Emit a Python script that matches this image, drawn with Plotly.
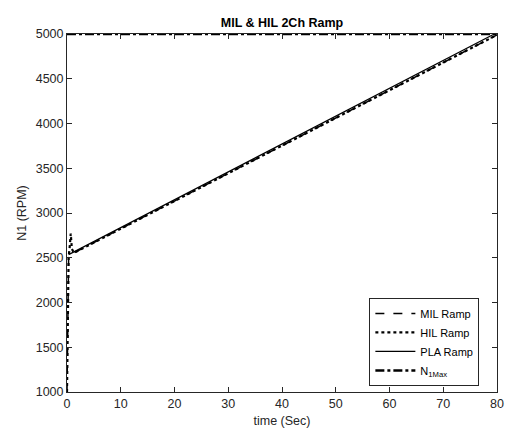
import plotly.graph_objects as go

# Time (s) and N1 speed (RPM) for each ramp trace
t_mil = [0.0, 0.3, 0.7, 1.3, 80.0]
n1_mil = [1000, 2500, 2560, 2555, 4990]

t_hil = [0.0, 0.3, 0.5, 0.7, 0.9, 1.3, 80.0]
n1_hil = [1000, 2500, 2620, 2770, 2600, 2555, 4990]

t_pla = [0.3, 79.5, 80.0]
n1_pla = [2535, 5000, 5000]

t_max = [0.0, 80.0]
n1_max = [5000, 5000]

x_ticks = [0, 10, 20, 30, 40, 50, 60, 70, 80]
y_ticks = [1000, 1500, 2000, 2500, 3000, 3500, 4000, 4500, 5000]

axis_col = "#262626"
font_family = "Liberation Sans, Arial, sans-serif"

fig = go.Figure()
fig.add_trace(go.Scatter(x=t_mil, y=n1_mil, mode="lines", name="MIL Ramp",
                         line=dict(color="black", width=1.5, dash="dash")))
fig.add_trace(go.Scatter(x=t_hil, y=n1_hil, mode="lines", name="HIL Ramp",
                         line=dict(color="black", width=2.2, dash="dot")))
fig.add_trace(go.Scatter(x=t_pla, y=n1_pla, mode="lines", name="PLA Ramp",
                         line=dict(color="black", width=1.2)))
fig.add_trace(go.Scatter(x=t_max, y=n1_max, mode="lines", name="N<sub>1Max</sub>",
                         line=dict(color="black", width=2.5, dash="dashdot")))

fig.update_layout(
    width=513, height=435,
    margin=dict(l=67, r=9, t=34, b=42),
    paper_bgcolor="white", plot_bgcolor="white",
    font=dict(family=font_family, size=12.5, color=axis_col),
    title=dict(text="<b>MIL & HIL 2Ch Ramp</b>", x=0.5, xref="paper",
               y=1 - 23 / 435, yanchor="middle",
               font=dict(size=12.5, color="black")),
    xaxis=dict(range=[0, 80], tickvals=x_ticks, showgrid=False, zeroline=False,
               showline=True, linecolor=axis_col, linewidth=1, mirror="ticks",
               ticks="inside", ticklen=5, tickcolor=axis_col,
               title=dict(text="time (Sec)", standoff=6, font=dict(size=12.5))),
    yaxis=dict(range=[1000, 5000], tickvals=y_ticks, showgrid=False, zeroline=False,
               showline=True, linecolor=axis_col, linewidth=1, mirror="ticks",
               ticks="inside", ticklen=5, tickcolor=axis_col,
               title=dict(text="N1 (RPM)", standoff=6, font=dict(size=12.5))),
    legend=dict(x=0.959, y=0.017, xanchor="right", yanchor="bottom",
                bgcolor="white", bordercolor=axis_col, borderwidth=1,
                font=dict(size=11, color="black"), itemwidth=40,
                tracegroupgap=0),
    showlegend=True,
)

fig.write_html("out.html")
